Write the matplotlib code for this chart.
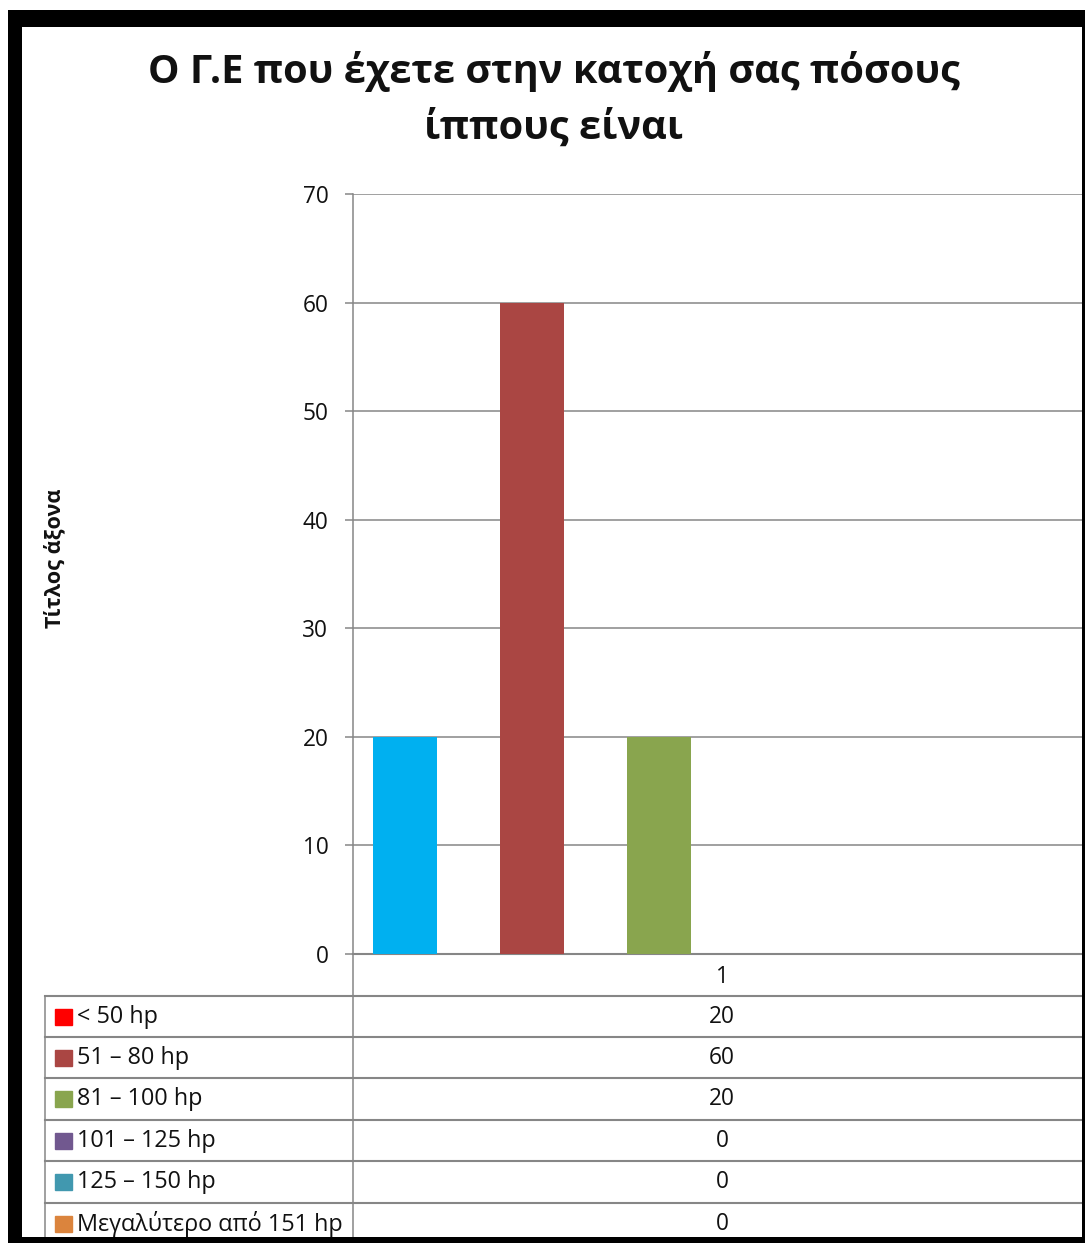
import matplotlib
matplotlib.use("Agg")
import matplotlib.pyplot as plt
from matplotlib.patches import Rectangle
from matplotlib.lines import Line2D

plt.rcParams['font.family'] = ['Open Sans', 'DejaVu Sans']

# Data
title = "Ο Γ.Ε που έχετε στην κατοχή σας πόσους\nίππους είναι"
y_label = "Τίτλος άξονα"
categories = ["1"]
series_names = ["< 50 hp", "51 – 80 hp", "81 – 100 hp", "101 – 125 hp",
                "125 – 150 hp", "Μεγαλύτερο από 151 hp"]
values = [20, 60, 20, 0, 0, 0]
bar_colors = ["#00B0F0", "#AA4643", "#89A54E", "#71588F", "#4198AF", "#DB843D"]
key_colors = ["#FF0000", "#AA4643", "#89A54E", "#71588F", "#4198AF", "#DB843D"]
y_ticks = [0, 10, 20, 30, 40, 50, 60, 70]

W, H = 1085, 1243
fig = plt.figure(figsize=(W / 100, H / 100), dpi=100)
fig.patch.set_facecolor("white")


def fx(x):
    return x / W


def fy(y):
    return 1 - y / H


GRID = "#868686"
TXT = "#111111"
FS = 16.3

# Plot area
ax_l, ax_r, ax_t, ax_b = 353, 1091, 194, 954
ax = fig.add_axes([fx(ax_l), fy(ax_b), fx(ax_r) - fx(ax_l), fy(ax_t) - fy(ax_b)])
ax.set_xlim(-0.5, 0.5)
ax.set_ylim(0, 70)

n = len(series_names)
slot = 0.172
bar_w = 0.0867
for i, (name, v, c) in enumerate(zip(series_names, values, bar_colors)):
    ax.bar(0 + (i - (n - 1) / 2) * slot, v, width=bar_w, color=c, zorder=3, label=name)

ax.set_yticks(y_ticks)
ax.set_yticklabels([str(t) for t in y_ticks], fontsize=FS, color=TXT)
ax.tick_params(axis="y", length=5.8, width=1.1, color=GRID, pad=12)
ax.set_xticks([0])
ax.set_xticklabels(categories, fontsize=FS, color=TXT)
ax.tick_params(axis="x", length=0, pad=8)
ax.yaxis.grid(True, color=GRID, lw=1.1, zorder=0)
for s in ["top", "right"]:
    ax.spines[s].set_visible(False)
ax.spines["left"].set_color(GRID)
ax.spines["left"].set_linewidth(1.1)
ax.spines["bottom"].set_color(GRID)
ax.spines["bottom"].set_linewidth(1.5)

# Title and axis title
line1, line2 = title.split("\n")
fig.text(fx(554), fy(72), line1, ha="center", va="center", fontsize=28.6,
         fontweight="bold", color=TXT)
fig.text(fx(554), fy(128), line2, ha="center", va="center", fontsize=28.6,
         fontweight="bold", color=TXT)
fig.text(fx(55), fy(558), y_label, ha="center", va="center", rotation=90,
         fontsize=15.6, fontweight="bold", color=TXT)

# Data table below the axis
table_left = 45
row_lines = [996, 1037, 1078, 1120, 1161, 1203]
row_h = 41.5
fig.add_artist(Line2D([fx(ax_l), fx(ax_l)], [fy(ax_b), fy(1240)], color=GRID, lw=1.1))
fig.add_artist(Line2D([fx(table_left), fx(table_left)], [fy(996), fy(1240)], color=GRID, lw=1.1))
for y in row_lines:
    fig.add_artist(Line2D([fx(table_left), fx(W)], [fy(y), fy(y)], color=GRID, lw=1.5))

for i, (name, v, c) in enumerate(zip(series_names, values, key_colors)):
    yc = row_lines[i] + row_h / 2
    fig.add_artist(Rectangle((fx(55), fy(yc + 8)), fx(17), 16 / H, color=c))
    fig.text(fx(77), fy(yc), name, ha="left", va="center", fontsize=16.8, color=TXT)
    fig.text(fx(722), fy(yc), str(v), ha="center", va="center", fontsize=FS, color=TXT)

# Black frame around the chart
frame = [(8, 10, W - 8, 17), (8, 10, 14, H - 10), (1082, 10, 10, H - 10), (8, 1237, W, 10)]
for x, y, w, h in frame:
    fig.add_artist(Rectangle((fx(x), fy(y + h)), w / W, h / H, color="black", zorder=10, lw=0))

fig.savefig("out.png", dpi=100)
